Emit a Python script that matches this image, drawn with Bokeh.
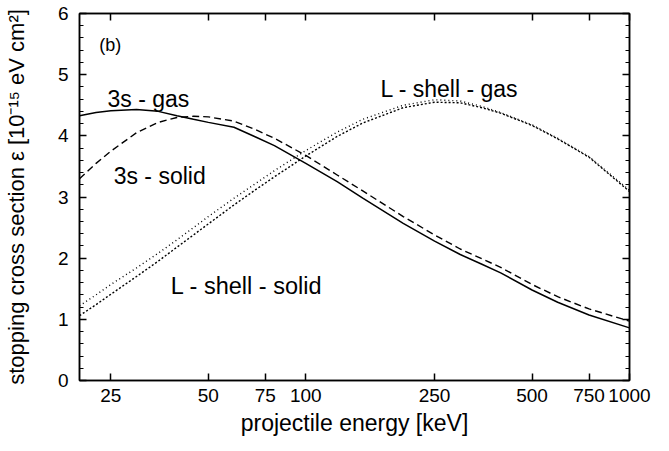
from bokeh.plotting import figure
from bokeh.models import FixedTicker, SingleIntervalTicker, LinearAxis, LogAxis, PrintfTickFormatter, CustomJSTickFormatter, Label
from bokeh.embed import file_html
from bokeh.resources import INLINE

# ---- data ----
energy = [20, 22.5, 25, 30, 35, 40, 45, 50, 60, 70, 80, 100, 125, 150, 200, 250, 300, 350, 400, 500, 600, 750, 1000]
s3_gas = [4.33, 4.38, 4.41, 4.43, 4.40, 4.33, 4.27, 4.22, 4.14, 3.98, 3.84, 3.55, 3.25, 2.98, 2.57, 2.28, 2.06, 1.90, 1.76, 1.48, 1.28, 1.07, 0.86]
s3_solid = [3.30, 3.55, 3.75, 4.05, 4.22, 4.30, 4.32, 4.31, 4.24, 4.10, 3.96, 3.68, 3.36, 3.10, 2.68, 2.38, 2.15, 1.99, 1.85, 1.57, 1.37, 1.17, 0.97]
L_gas = [1.22, 1.40, 1.57, 1.84, 2.08, 2.30, 2.50, 2.68, 2.98, 3.22, 3.43, 3.76, 4.06, 4.27, 4.50, 4.59, 4.57, 4.48, 4.38, 4.18, 3.96, 3.66, 3.11]
L_solid = [1.06, 1.24, 1.41, 1.70, 1.95, 2.18, 2.38, 2.56, 2.87, 3.12, 3.33, 3.67, 3.99, 4.21, 4.46, 4.55, 4.54, 4.46, 4.37, 4.17, 3.95, 3.65, 3.09]

x_ticks = [25, 50, 75, 100, 250, 500, 750, 1000]

FONT = "Liberation Sans"

p = figure(frame_width=550, frame_height=367, x_axis_type="log", x_range=(20, 1000), y_range=(0, 6),
           output_backend="svg", toolbar_location=None,
           min_border_left=74, min_border_right=29, min_border_top=13, min_border_bottom=62)
p.grid.visible = False
p.outline_line_color = "black"
p.outline_line_width = 1.5
p.background_fill_color = "white"
p.border_fill_color = "white"

def style_axis(ax):
    ax.axis_line_color = "black"
    ax.axis_line_width = 1.5
    ax.major_tick_in = 7
    ax.major_tick_out = 0
    ax.minor_tick_in = 4
    ax.minor_tick_out = 0
    ax.major_tick_line_width = 1.5
    ax.minor_tick_line_width = 1.2
    ax.major_label_text_font = FONT
    ax.major_label_text_font_size = "19px"
    ax.major_label_text_color = "black"
    ax.axis_label_text_font = FONT
    ax.axis_label_text_font_style = "normal"
    ax.axis_label_text_font_size = "23px"
    ax.axis_label_text_color = "black"

xax = p.xaxis[0]
xax.ticker = FixedTicker(ticks=x_ticks, minor_ticks=[])
xax.formatter = PrintfTickFormatter(format="%d")
style_axis(xax)
xax.axis_label = "projectile energy [keV]"
xax.major_label_standoff = 8
xax.axis_label_standoff = 5

yax = p.yaxis[0]
yax.ticker = SingleIntervalTicker(interval=1, num_minor_ticks=5)
style_axis(yax)
yax.axis_label = "stopping cross section \u03b5 [10\u207b\u00b9\u2075 eV cm\u00b2]"
yax.axis_label_text_font_size = "22px"
yax.major_label_standoff = 11
yax.axis_label_standoff = 26

top = LogAxis(ticker=FixedTicker(ticks=x_ticks, minor_ticks=[]),
              formatter=CustomJSTickFormatter(code="return ''"))
style_axis(top)
top.major_label_text_font_size = "0px"
top.major_label_standoff = 0
p.add_layout(top, "above")

right = LinearAxis(ticker=SingleIntervalTicker(interval=1, num_minor_ticks=5),
                   formatter=CustomJSTickFormatter(code="return ''"))
style_axis(right)
right.major_label_text_font_size = "0px"
right.major_label_standoff = 0
p.add_layout(right, "right")

p.line(energy, s3_gas, line_color="black", line_width=1.5)
p.line(energy, s3_solid, line_color="black", line_width=1.4, line_dash="7 4")
p.line(energy, L_gas, line_color="black", line_width=1.4, line_dash="1 3")
p.line(energy, L_solid, line_color="black", line_width=1.4, line_dash="2 2")

def lab(x, y, t, size="23px"):
    p.add_layout(Label(x=x, y=y, text=t, text_font=FONT, text_font_size=size,
                       text_color="black", text_baseline="alphabetic", text_align="left"))

lab(23.0, 5.48, "(b)", "18px")
lab(24.4, 4.61, "3s - gas")
lab(25.5, 3.35, "3s - solid")
lab(38.3, 1.55, "L - shell - solid", "23.5px")
lab(170, 4.76, "L - shell - gas")

open("out.html", "w").write(file_html(p, INLINE))
